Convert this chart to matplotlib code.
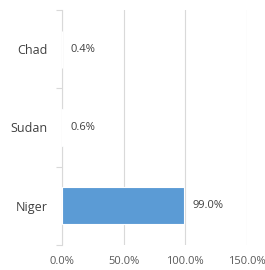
import matplotlib.pyplot as plt
import numpy as np

countries = ['Chad', 'Sudan', 'Niger']
values = [0.4, 0.6, 99.0]
xticks = [0, 50, 100, 150]

plt.rcParams['font.family'] = ['Open Sans', 'DejaVu Sans']

fig = plt.figure(figsize=(2.65, 2.70), dpi=100)
ax = fig.add_axes([62/265, 1-245/270, 185/265, 235/270])

ypos = np.arange(len(countries))[::-1]
ax.barh(ypos, values, height=0.47, color='#5b9bd5', edgecolor='white', linewidth=0.8, zorder=3)

for y, v in zip(ypos, values):
    ax.text(v + 6.5, y, '%.1f%%' % v, va='center', ha='left', fontsize=8, color='#404040')

ax.set_xlim(0, 150)
ax.set_ylim(-0.5, 2.5)
ax.set_xticks(xticks)
ax.set_xticklabels(['%.1f%%' % t for t in xticks], fontsize=8, color='#595959')
ax.set_yticks(ypos)
ax.set_yticklabels(countries, fontsize=9, color='#404040')
ax.set_yticks([-0.5, 0.5, 1.5, 2.5], minor=True)
ax.tick_params(axis='y', which='major', length=0, pad=10.5)
ax.tick_params(axis='y', which='minor', length=4, color='#d9d9d9', width=0.8)
ax.tick_params(axis='x', length=0, pad=8)

ax.grid(axis='x', color='#d9d9d9', linewidth=0.8, zorder=0)
for s in ['top', 'right', 'bottom']:
    ax.spines[s].set_visible(False)
ax.spines['left'].set_color('#d9d9d9')
ax.spines['left'].set_linewidth(0.8)

fig.savefig('out.png', dpi=100)
